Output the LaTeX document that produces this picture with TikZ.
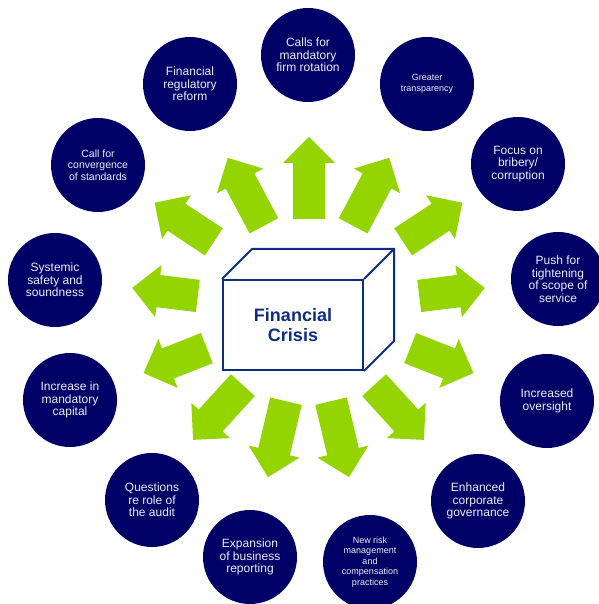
\documentclass[tikz,border=0pt]{standalone}
\usepackage{fontspec}
\setmainfont{Liberation Sans}
\usetikzlibrary{shapes.arrows}

\definecolor{topicblue}{HTML}{000066}
\definecolor{topictext}{HTML}{EEEEF4}
\definecolor{pushgreen}{HTML}{94D400}
\definecolor{crisisblue}{HTML}{0C2D82}

\begin{document}
\begin{tikzpicture}[x=1pt,y=1pt,
    topic/.style={circle,fill=topicblue,text=topictext,minimum size=94pt,
      inner sep=0pt,align=center,font=\fontsize{12}{12.5}\selectfont},
    small/.style={font=\fontsize{9}{10.5}\selectfont},
    push/.style={single arrow,fill=pushgreen,draw=none,inner xsep=0pt,
      inner ysep=16pt,single arrow head extend=10pt,
      single arrow tip angle=90,anchor=tail}]

    \useasboundingbox (0,0) rectangle (598,604);

    % centre box
    \node[draw=crisisblue,line width=2pt,minimum width=140pt,minimum height=90pt,
      align=center,text=crisisblue,font=\fontsize{18}{20}\selectfont\bfseries]
      (crisis) at (293,279) {Financial\\Crisis};
    \draw[crisisblue,line width=2pt,line join=miter]
      (crisis.north west) -- ++(30,30) -| ([shift={(30,30)}]crisis.south east)
      -- (crisis.south east);
    \draw[crisisblue,line width=2pt] (crisis.north east) -- ++(30,30);

    % arrows
    \node[push,rotate=90,minimum height=82pt] (a1) at (309,385) {};
    \node[push,rotate=62,minimum height=77pt] (a2) at (353,378) {};
    \node[push,rotate=33.5,minimum height=71pt] (a3) at (403,362) {};
    \node[push,rotate=7,minimum height=66pt] (a4) at (419,308) {};
    \node[push,rotate=-21.6,minimum height=68pt] (a5) at (410,256) {};
    \node[push,rotate=-47.7,minimum height=74pt] (a6) at (374,219) {};
    \node[push,rotate=-76.7,minimum height=78pt] (a7) at (331,203) {};
    \node[push,rotate=-103.3,minimum height=78pt] (a8) at (286,203) {};
    \node[push,rotate=-132.3,minimum height=74pt] (a9) at (243,219) {};
    \node[push,rotate=-158.4,minimum height=68pt] (a10) at (207,256) {};
    \node[push,rotate=173,minimum height=66pt] (a11) at (198,308) {};
    \node[push,rotate=146.5,minimum height=71pt] (a12) at (214,362) {};
    \node[push,rotate=118,minimum height=77pt] (a13) at (264,378) {};

    % topics
    \node[topic] (rotation) at (308,549) {Calls for\\mandatory\\firm rotation};
    \node[topic,small] (transparency) at (427,520) {Greater\\transparency};
    \node[topic] (bribery) at (518,440) {Focus on\\bribery/\\corruption};
    \node[topic] (scope) at (558,325) {Push for\\tightening\\of scope of\\service};
    \node[topic] (oversight) at (547,203) {Increased\\oversight};
    \node[topic] (governance) at (478,103) {Enhanced\\corporate\\governance};
    \node[topic,small] (risk) at (370,42) {New risk\\management\\and\\compensation\\practices};
    \node[topic] (reporting) at (250,47) {Expansion\\of business\\reporting};
    \node[topic] (audit) at (152,104) {Questions\\re role of\\the audit};
    \node[topic] (capital) at (70,204) {Increase in\\mandatory\\capital};
    \node[topic] (systemic) at (55,324) {Systemic\\safety and\\soundness};
    \node[topic,font=\fontsize{10.5}{11.5}\selectfont] (standards) at (98,439)
      {Call for\\convergence\\of standards};
    \node[topic] (reform) at (190,520) {Financial\\regulatory\\reform};

\end{tikzpicture}
\end{document}
